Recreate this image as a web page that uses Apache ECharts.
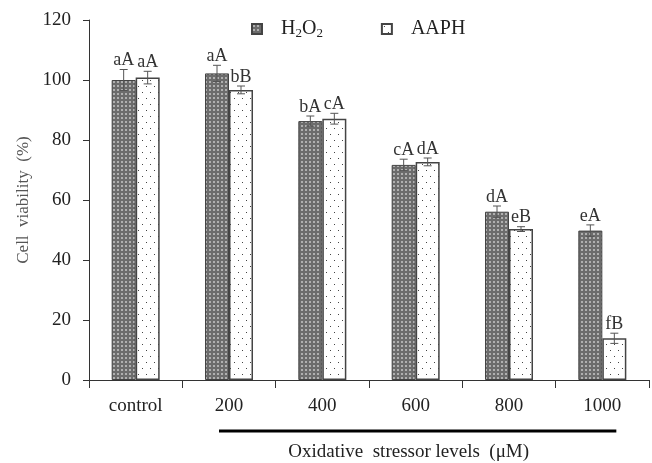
<!DOCTYPE html>
<html><head><meta charset="utf-8">
<script src="https://cdn.jsdelivr.net/npm/echarts@6/dist/echarts.min.js"></script>
<style>html,body{margin:0;padding:0;background:#fff}#c{width:652px;height:463px}</style>
</head><body><div id="c"></div>
<script>
const categories = ['control', '200', '400', '600', '800', '1000'];
const h2o2 = [100, 102.2, 86.3, 71.7, 56.1, 49.8];
const aaph = [100.8, 96.7, 87.1, 72.7, 50.3, 13.9];
const h2o2Err = [3.5, 2.7, 1.7, 1.9, 1.9, 1.9];
const aaphErr = [2.1, 1.3, 1.8, 1.3, 0.8, 1.7];
const h2o2Letters = ['aA', 'aA', 'bA', 'cA', 'dA', 'eA'];
const aaphLetters = ['aA', 'bB', 'cA', 'dA', 'eB', 'fB'];
const yTicks = [0, 20, 40, 60, 80, 100, 120];

const FONT = '"Liberation Serif", "DejaVu Serif", serif';
const BAR_W = 24;

function makePattern(w, h, bg, dots, dotColor, ds) {
  const c = document.createElement('canvas');
  c.width = w; c.height = h;
  const g = c.getContext('2d');
  g.fillStyle = bg; g.fillRect(0, 0, w, h);
  g.fillStyle = dotColor;
  dots.forEach(d => g.fillRect(d[0], d[1], ds, ds));
  return { image: c, repeat: 'repeat' };
}
const darkPat = makePattern(4, 4, '#6c6c6c', [[1, 1]], '#b0b0b0', 2);
const lightPat = makePattern(8, 12, '#ffffff', [[2, 2], [6, 8]], '#444444', 1);

const chart = echarts.init(document.getElementById('c'), null, { renderer: 'canvas' });

function errSeries(name, vals, errs, letters, dir) {
  return {
    type: 'custom',
    name: name + '_err',
    z: 5,
    data: vals.map((v, i) => [i, v, errs[i], letters[i]]),
    renderItem: function (params, api) {
      const i = api.value(0), v = api.value(1), e = api.value(2);
      const center = api.coord([i, v]);
      const x = center[0] + dir * BAR_W / 2;
      const top = api.coord([i, v + e])[1];
      const bot = api.coord([i, v - e])[1];
      const cap = 4;
      const st = { stroke: '#555', lineWidth: 1 };
      return {
        type: 'group',
        children: [
          { type: 'line', shape: { x1: x, y1: top, x2: x, y2: bot }, style: st },
          { type: 'line', shape: { x1: x - cap, y1: top, x2: x + cap, y2: top }, style: st },
          { type: 'line', shape: { x1: x - cap, y1: bot, x2: x + cap, y2: bot }, style: st },
          { type: 'text', style: { text: letters[i], x: x, y: top, align: 'center', verticalAlign: 'bottom',
              font: '18px ' + FONT, fill: '#333' } }
        ]
      };
    },
    silent: true
  };
}

chart.setOption({
  animation: false,
  backgroundColor: '#fff',
  textStyle: { fontFamily: FONT },
  grid: { left: 89, right: 3, top: 20, bottom: 83, containLabel: false },
  legend: {
    left: 246, top: 14,
    icon: 'rect',
    itemWidth: 10, itemHeight: 10, itemGap: 58,
    data: ['H2O2', 'AAPH'],
    formatter: function (n) { return n === 'H2O2' ? 'H{s|2}O{s|2}' : n; },
    textStyle: {
      fontFamily: FONT, fontSize: 20, color: '#222', padding: [0, 0, 0, 14],
      rich: { s: { fontFamily: FONT, fontSize: 13, color: '#222', padding: [10, 0, 0, 0] } }
    }
  },
  xAxis: {
    type: 'category',
    data: categories,
    axisLine: { lineStyle: { color: '#333', width: 1 } },
    axisTick: { show: true, alignWithLabel: false, length: 8, lineStyle: { color: '#333' } },
    axisLabel: { fontFamily: FONT, fontSize: 19, color: '#222', margin: 17, interval: 0 }
  },
  yAxis: {
    type: 'value', min: 0, max: 120, interval: 20,
    name: 'Cell  viability  (%)',
    nameLocation: 'middle', nameGap: 51, nameRotate: 90,
    nameTextStyle: { fontFamily: FONT, fontSize: 17, color: '#555' },
    axisLine: { show: true, lineStyle: { color: '#333', width: 1 } },
    axisTick: { show: true, length: 6, lineStyle: { color: '#333' } },
    splitLine: { show: false },
    axisLabel: { fontFamily: FONT, fontSize: 19, color: '#222', margin: 18,
      formatter: function (v) { return yTicks.indexOf(v) >= 0 ? String(v) : ''; } }
  },
  series: [
    { name: 'H2O2', type: 'bar', data: h2o2, barWidth: BAR_W, barGap: '0%',
      itemStyle: { color: darkPat, borderColor: '#444', borderWidth: 1 } },
    { name: 'AAPH', type: 'bar', data: aaph, barWidth: BAR_W, barGap: '0%',
      itemStyle: { color: lightPat, borderColor: '#444', borderWidth: 1.5 } },
    errSeries('H2O2', h2o2, h2o2Err, h2o2Letters, -1),
    errSeries('AAPH', aaph, aaphErr, aaphLetters, 1)
  ]
});

const p200 = chart.convertToPixel({ xAxisIndex: 0 }, '200');
const p1000 = chart.convertToPixel({ xAxisIndex: 0 }, '1000');
const x0 = p200 - 10, x1 = p1000 + 14;
chart.setOption({
  graphic: [
    { type: 'line', shape: { x1: x0, y1: 431, x2: x1, y2: 431 }, style: { stroke: '#000', lineWidth: 3 } },
    { type: 'text', x: (x0 + x1) / 2 - 9, y: 452,
      style: { text: 'Oxidative  stressor levels  (\u03bcM)', font: '19px ' + FONT, fill: '#222',
        align: 'center', verticalAlign: 'middle' } }
  ]
});
</script></body></html>
